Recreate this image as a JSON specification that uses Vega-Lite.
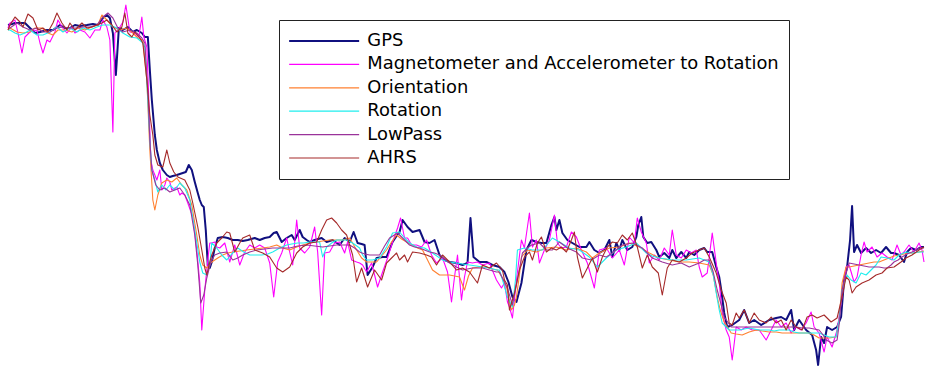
{
"$schema": "https://vega.github.io/schema/vega-lite/v6.json",
"width": 925, "height": 366,
"autosize": {"type": "fit", "contains": "padding"},
"padding": 0,
"background": "white",
"config": {
  "view": {"stroke": null},
  "legend": {"orient": "none", "legendX": 279, "legendY": 20, "title": null, "direction": "vertical",
    "strokeColor": "#222222", "strokeWidth": 1, "fillColor": "white", "padding": 10, "cornerRadius": 0,
    "symbolType": "M-10,0H10", "symbolSize": 49, "symbolStrokeWidth": 1.2, "symbolOffset": 26.2,
    "labelFont": "DejaVu Sans", "labelFontSize": 17.9, "labelColor": "black", "labelOffset": 34.2, "labelLimit": 0,
    "rowPadding": 1.4, "clipHeight": 22}
},
"datasets": {
"gps": [{"t":8,"h":25},{"t":12,"h":24},{"t":15,"h":23},{"t":20,"h":23},{"t":25,"h":23},{"t":30,"h":28},{"t":35,"h":33},{"t":40,"h":32},{"t":47,"h":30},{"t":53,"h":30},{"t":60,"h":25},{"t":65,"h":28},{"t":70,"h":28},{"t":75,"h":25},{"t":80,"h":26},{"t":87,"h":25},{"t":93,"h":24},{"t":98,"h":25},{"t":103,"h":18},{"t":107,"h":15},{"t":110,"h":18},{"t":113,"h":33},{"t":116,"h":75},{"t":119,"h":28},{"t":123,"h":30},{"t":128,"h":27},{"t":133,"h":32},{"t":137,"h":30},{"t":142,"h":33},{"t":145,"h":37},{"t":148,"h":37},{"t":150,"h":70},{"t":152,"h":100},{"t":155,"h":135},{"t":157,"h":150},{"t":160,"h":163},{"t":163,"h":170},{"t":167,"h":175},{"t":170,"h":177},{"t":173,"h":176},{"t":177,"h":175},{"t":180,"h":174},{"t":183,"h":173},{"t":186,"h":172},{"t":189,"h":165},{"t":192,"h":170},{"t":195,"h":182},{"t":198,"h":193},{"t":200,"h":200},{"t":202,"h":205},{"t":204,"h":207},{"t":206,"h":230},{"t":208,"h":265},{"t":210,"h":268},{"t":212,"h":262},{"t":215,"h":248},{"t":218,"h":238},{"t":223,"h":237},{"t":228,"h":238},{"t":233,"h":240},{"t":238,"h":240},{"t":243,"h":241},{"t":248,"h":240},{"t":255,"h":238},{"t":260,"h":240},{"t":265,"h":238},{"t":270,"h":237},{"t":274,"h":233},{"t":277,"h":232},{"t":280,"h":238},{"t":282,"h":242},{"t":287,"h":238},{"t":292,"h":235},{"t":295,"h":240},{"t":300,"h":230},{"t":303,"h":237},{"t":307,"h":240},{"t":310,"h":242},{"t":315,"h":240},{"t":322,"h":238},{"t":327,"h":242},{"t":333,"h":240},{"t":340,"h":245},{"t":345,"h":238},{"t":350,"h":242},{"t":354,"h":232},{"t":358,"h":243},{"t":362,"h":244},{"t":365,"h":245},{"t":368,"h":275},{"t":373,"h":267},{"t":377,"h":258},{"t":383,"h":257},{"t":387,"h":257},{"t":393,"h":242},{"t":397,"h":236},{"t":400,"h":232},{"t":403,"h":220},{"t":408,"h":227},{"t":413,"h":232},{"t":420,"h":230},{"t":425,"h":242},{"t":430,"h":243},{"t":435,"h":240},{"t":440,"h":255},{"t":445,"h":260},{"t":450,"h":262},{"t":457,"h":263},{"t":463,"h":265},{"t":468,"h":263},{"t":471,"h":218},{"t":474,"h":257},{"t":480,"h":262},{"t":487,"h":262},{"t":493,"h":265},{"t":500,"h":267},{"t":505,"h":272},{"t":509,"h":282},{"t":513,"h":297},{"t":517,"h":302},{"t":522,"h":283},{"t":527,"h":250},{"t":532,"h":240},{"t":537,"h":242},{"t":542,"h":243},{"t":547,"h":243},{"t":552,"h":225},{"t":555,"h":217},{"t":557,"h":230},{"t":560,"h":220},{"t":563,"h":233},{"t":568,"h":240},{"t":573,"h":243},{"t":580,"h":247},{"t":587,"h":247},{"t":590,"h":242},{"t":595,"h":250},{"t":600,"h":253},{"t":605,"h":250},{"t":610,"h":240},{"t":613,"h":257},{"t":617,"h":243},{"t":620,"h":250},{"t":623,"h":240},{"t":628,"h":250},{"t":633,"h":247},{"t":637,"h":237},{"t":639,"h":225},{"t":642,"h":217},{"t":644,"h":237},{"t":648,"h":243},{"t":652,"h":242},{"t":657,"h":250},{"t":660,"h":257},{"t":665,"h":253},{"t":670,"h":258},{"t":673,"h":250},{"t":677,"h":258},{"t":682,"h":252},{"t":687,"h":258},{"t":690,"h":252},{"t":695,"h":255},{"t":700,"h":250},{"t":705,"h":248},{"t":708,"h":252},{"t":713,"h":252},{"t":717,"h":267},{"t":720,"h":277},{"t":722,"h":290},{"t":725,"h":313},{"t":728,"h":327},{"t":733,"h":325},{"t":740,"h":320},{"t":745,"h":310},{"t":750,"h":323},{"t":755,"h":320},{"t":762,"h":325},{"t":770,"h":320},{"t":777,"h":318},{"t":782,"h":317},{"t":787,"h":320},{"t":792,"h":310},{"t":795,"h":330},{"t":800,"h":320},{"t":807,"h":330},{"t":813,"h":335},{"t":817,"h":350},{"t":819,"h":365},{"t":822,"h":337},{"t":825,"h":343},{"t":828,"h":327},{"t":833,"h":330},{"t":838,"h":327},{"t":842,"h":317},{"t":845,"h":280},{"t":848,"h":267},{"t":851,"h":240},{"t":853,"h":206},{"t":855,"h":252},{"t":858,"h":245},{"t":862,"h":253},{"t":867,"h":248},{"t":872,"h":253},{"t":877,"h":250},{"t":882,"h":253},{"t":887,"h":247},{"t":892,"h":253},{"t":895,"h":253},{"t":900,"h":255},{"t":905,"h":262},{"t":908,"h":252},{"t":912,"h":248},{"t":917,"h":250},{"t":922,"h":247},{"t":925,"h":247}],
"mag": [{"t":8,"h":28},{"t":10,"h":23},{"t":15,"h":20},{"t":18,"h":33},{"t":22,"h":53},{"t":25,"h":37},{"t":30,"h":32},{"t":37,"h":30},{"t":40,"h":43},{"t":43,"h":53},{"t":47,"h":40},{"t":50,"h":42},{"t":55,"h":32},{"t":58,"h":20},{"t":62,"h":27},{"t":67,"h":33},{"t":72,"h":27},{"t":75,"h":33},{"t":80,"h":30},{"t":85,"h":32},{"t":90,"h":38},{"t":95,"h":30},{"t":100,"h":30},{"t":103,"h":20},{"t":107,"h":27},{"t":110,"h":40},{"t":113,"h":132},{"t":115,"h":33},{"t":120,"h":27},{"t":123,"h":22},{"t":126,"h":5},{"t":130,"h":32},{"t":135,"h":33},{"t":139,"h":37},{"t":142,"h":17},{"t":144,"h":37},{"t":147,"h":47},{"t":149,"h":100},{"t":151,"h":160},{"t":153,"h":170},{"t":157,"h":180},{"t":160,"h":170},{"t":162,"h":190},{"t":165,"h":185},{"t":167,"h":178},{"t":170,"h":182},{"t":172,"h":190},{"t":177,"h":187},{"t":180,"h":195},{"t":182,"h":193},{"t":185,"h":195},{"t":188,"h":203},{"t":193,"h":217},{"t":197,"h":250},{"t":200,"h":283},{"t":202,"h":330},{"t":205,"h":290},{"t":208,"h":260},{"t":210,"h":243},{"t":212,"h":243},{"t":215,"h":242},{"t":217,"h":247},{"t":220,"h":248},{"t":225,"h":243},{"t":230,"h":262},{"t":235,"h":245},{"t":240,"h":265},{"t":245,"h":252},{"t":250,"h":245},{"t":255,"h":248},{"t":260,"h":245},{"t":265,"h":248},{"t":270,"h":263},{"t":274,"h":297},{"t":278,"h":262},{"t":282,"h":253},{"t":287,"h":238},{"t":290,"h":252},{"t":293,"h":265},{"t":297,"h":220},{"t":300,"h":248},{"t":305,"h":253},{"t":310,"h":247},{"t":315,"h":227},{"t":318,"h":252},{"t":322,"h":315},{"t":325,"h":253},{"t":330,"h":252},{"t":335,"h":243},{"t":340,"h":242},{"t":345,"h":253},{"t":348,"h":242},{"t":352,"h":260},{"t":357,"h":262},{"t":360,"h":263},{"t":363,"h":265},{"t":367,"h":272},{"t":372,"h":263},{"t":378,"h":287},{"t":383,"h":272},{"t":388,"h":258},{"t":393,"h":242},{"t":398,"h":228},{"t":401,"h":218},{"t":405,"h":238},{"t":408,"h":238},{"t":412,"h":245},{"t":417,"h":245},{"t":422,"h":247},{"t":427,"h":240},{"t":432,"h":255},{"t":437,"h":263},{"t":443,"h":258},{"t":448,"h":272},{"t":452,"h":302},{"t":455,"h":277},{"t":458,"h":255},{"t":462,"h":300},{"t":465,"h":277},{"t":468,"h":262},{"t":473,"h":263},{"t":478,"h":262},{"t":483,"h":265},{"t":490,"h":263},{"t":497,"h":280},{"t":502,"h":288},{"t":505,"h":283},{"t":508,"h":302},{"t":510,"h":307},{"t":513,"h":318},{"t":517,"h":280},{"t":522,"h":240},{"t":525,"h":248},{"t":530,"h":213},{"t":533,"h":247},{"t":537,"h":240},{"t":540,"h":263},{"t":545,"h":250},{"t":550,"h":240},{"t":555,"h":215},{"t":558,"h":243},{"t":562,"h":248},{"t":567,"h":247},{"t":572,"h":232},{"t":577,"h":237},{"t":582,"h":250},{"t":588,"h":263},{"t":595,"h":288},{"t":600,"h":250},{"t":607,"h":248},{"t":613,"h":258},{"t":620,"h":250},{"t":625,"h":265},{"t":630,"h":237},{"t":635,"h":243},{"t":638,"h":218},{"t":642,"h":232},{"t":647,"h":243},{"t":650,"h":263},{"t":655,"h":255},{"t":660,"h":260},{"t":665,"h":248},{"t":670,"h":255},{"t":673,"h":230},{"t":677,"h":255},{"t":682,"h":258},{"t":687,"h":250},{"t":692,"h":253},{"t":697,"h":250},{"t":700,"h":267},{"t":703,"h":277},{"t":708,"h":273},{"t":713,"h":233},{"t":717,"h":263},{"t":720,"h":283},{"t":723,"h":313},{"t":727,"h":330},{"t":730,"h":337},{"t":733,"h":360},{"t":737,"h":327},{"t":742,"h":330},{"t":747,"h":327},{"t":753,"h":330},{"t":760,"h":330},{"t":767,"h":340},{"t":772,"h":330},{"t":777,"h":320},{"t":782,"h":327},{"t":787,"h":323},{"t":792,"h":333},{"t":797,"h":327},{"t":802,"h":330},{"t":807,"h":323},{"t":812,"h":312},{"t":815,"h":327},{"t":820,"h":333},{"t":825,"h":352},{"t":828,"h":337},{"t":833,"h":347},{"t":838,"h":330},{"t":843,"h":297},{"t":847,"h":267},{"t":850,"h":265},{"t":855,"h":282},{"t":858,"h":277},{"t":862,"h":255},{"t":865,"h":242},{"t":868,"h":252},{"t":873,"h":247},{"t":878,"h":257},{"t":883,"h":253},{"t":888,"h":257},{"t":893,"h":260},{"t":898,"h":245},{"t":902,"h":255},{"t":905,"h":252},{"t":910,"h":245},{"t":915,"h":252},{"t":920,"h":243},{"t":923,"h":250},{"t":925,"h":262}],
"ori": [{"t":8,"h":30},{"t":10,"h":28},{"t":17,"h":32},{"t":23,"h":33},{"t":30,"h":32},{"t":35,"h":28},{"t":42,"h":28},{"t":48,"h":33},{"t":53,"h":35},{"t":58,"h":30},{"t":65,"h":30},{"t":72,"h":32},{"t":78,"h":28},{"t":85,"h":30},{"t":92,"h":27},{"t":98,"h":25},{"t":102,"h":15},{"t":107,"h":20},{"t":113,"h":27},{"t":120,"h":30},{"t":127,"h":28},{"t":133,"h":33},{"t":138,"h":38},{"t":143,"h":40},{"t":147,"h":80},{"t":150,"h":150},{"t":153,"h":200},{"t":155,"h":210},{"t":158,"h":195},{"t":162,"h":183},{"t":167,"h":180},{"t":172,"h":182},{"t":177,"h":178},{"t":182,"h":185},{"t":187,"h":190},{"t":192,"h":205},{"t":197,"h":235},{"t":200,"h":255},{"t":203,"h":265},{"t":207,"h":268},{"t":212,"h":262},{"t":218,"h":258},{"t":223,"h":255},{"t":228,"h":253},{"t":233,"h":252},{"t":240,"h":251},{"t":247,"h":250},{"t":255,"h":249},{"t":263,"h":248},{"t":270,"h":247},{"t":277,"h":245},{"t":283,"h":248},{"t":290,"h":250},{"t":297,"h":247},{"t":303,"h":245},{"t":310,"h":243},{"t":317,"h":242},{"t":323,"h":241},{"t":330,"h":240},{"t":337,"h":240},{"t":343,"h":240},{"t":350,"h":238},{"t":357,"h":250},{"t":362,"h":258},{"t":367,"h":262},{"t":372,"h":262},{"t":377,"h":262},{"t":382,"h":256},{"t":387,"h":250},{"t":392,"h":242},{"t":397,"h":235},{"t":402,"h":239},{"t":407,"h":242},{"t":413,"h":245},{"t":418,"h":248},{"t":423,"h":250},{"t":428,"h":260},{"t":433,"h":270},{"t":440,"h":275},{"t":445,"h":275},{"t":450,"h":275},{"t":455,"h":276},{"t":460,"h":277},{"t":465,"h":290},{"t":469,"h":276},{"t":473,"h":268},{"t":480,"h":267},{"t":487,"h":267},{"t":493,"h":269},{"t":498,"h":270},{"t":503,"h":278},{"t":507,"h":287},{"t":512,"h":310},{"t":515,"h":305},{"t":517,"h":297},{"t":520,"h":275},{"t":522,"h":257},{"t":528,"h":250},{"t":537,"h":252},{"t":547,"h":248},{"t":557,"h":247},{"t":567,"h":250},{"t":577,"h":248},{"t":587,"h":252},{"t":593,"h":258},{"t":600,"h":253},{"t":610,"h":248},{"t":620,"h":247},{"t":630,"h":243},{"t":640,"h":247},{"t":650,"h":253},{"t":660,"h":258},{"t":670,"h":260},{"t":680,"h":262},{"t":690,"h":262},{"t":700,"h":263},{"t":710,"h":265},{"t":714,"h":275},{"t":718,"h":297},{"t":721,"h":310},{"t":725,"h":322},{"t":732,"h":333},{"t":737,"h":334},{"t":743,"h":335},{"t":750,"h":332},{"t":757,"h":330},{"t":763,"h":331},{"t":770,"h":332},{"t":777,"h":332},{"t":783,"h":333},{"t":790,"h":333},{"t":797,"h":333},{"t":803,"h":333},{"t":810,"h":333},{"t":815,"h":335},{"t":820,"h":338},{"t":825,"h":338},{"t":830,"h":338},{"t":837,"h":337},{"t":840,"h":320},{"t":843,"h":283},{"t":847,"h":267},{"t":850,"h":267},{"t":855,"h":266},{"t":860,"h":265},{"t":865,"h":264},{"t":870,"h":263},{"t":875,"h":262},{"t":880,"h":262},{"t":885,"h":260},{"t":890,"h":258},{"t":895,"h":256},{"t":900,"h":255},{"t":905,"h":254},{"t":910,"h":253},{"t":915,"h":253},{"t":920,"h":252},{"t":925,"h":251}],
"rot": [{"t":8,"h":30},{"t":10,"h":30},{"t":15,"h":33},{"t":20,"h":35},{"t":25,"h":33},{"t":30,"h":30},{"t":37,"h":35},{"t":43,"h":35},{"t":50,"h":32},{"t":57,"h":27},{"t":63,"h":32},{"t":70,"h":28},{"t":77,"h":32},{"t":83,"h":28},{"t":90,"h":30},{"t":97,"h":27},{"t":103,"h":25},{"t":110,"h":25},{"t":117,"h":28},{"t":123,"h":33},{"t":130,"h":37},{"t":137,"h":38},{"t":142,"h":42},{"t":145,"h":47},{"t":148,"h":100},{"t":150,"h":140},{"t":152,"h":170},{"t":155,"h":180},{"t":158,"h":192},{"t":162,"h":185},{"t":166,"h":190},{"t":170,"h":185},{"t":175,"h":190},{"t":180,"h":183},{"t":185,"h":188},{"t":190,"h":200},{"t":195,"h":230},{"t":200,"h":262},{"t":203,"h":273},{"t":207,"h":275},{"t":210,"h":265},{"t":212,"h":243},{"t":217,"h":248},{"t":222,"h":255},{"t":227,"h":260},{"t":232,"h":254},{"t":238,"h":248},{"t":244,"h":252},{"t":250,"h":255},{"t":256,"h":255},{"t":262,"h":255},{"t":268,"h":254},{"t":273,"h":252},{"t":280,"h":248},{"t":287,"h":245},{"t":292,"h":244},{"t":298,"h":243},{"t":304,"h":243},{"t":310,"h":242},{"t":315,"h":242},{"t":320,"h":242},{"t":323,"h":257},{"t":327,"h":247},{"t":332,"h":243},{"t":337,"h":240},{"t":342,"h":240},{"t":347,"h":240},{"t":353,"h":243},{"t":360,"h":248},{"t":363,"h":255},{"t":367,"h":260},{"t":373,"h":260},{"t":380,"h":258},{"t":387,"h":247},{"t":393,"h":233},{"t":400,"h":232},{"t":405,"h":238},{"t":410,"h":243},{"t":417,"h":247},{"t":425,"h":248},{"t":433,"h":253},{"t":443,"h":260},{"t":450,"h":262},{"t":457,"h":263},{"t":463,"h":264},{"t":470,"h":265},{"t":477,"h":266},{"t":483,"h":267},{"t":490,"h":268},{"t":497,"h":270},{"t":500,"h":270},{"t":504,"h":283},{"t":508,"h":297},{"t":513,"h":307},{"t":516,"h":280},{"t":518,"h":250},{"t":525,"h":248},{"t":533,"h":250},{"t":543,"h":250},{"t":553,"h":238},{"t":560,"h":242},{"t":570,"h":248},{"t":580,"h":250},{"t":590,"h":257},{"t":598,"h":267},{"t":603,"h":262},{"t":607,"h":258},{"t":612,"h":254},{"t":617,"h":250},{"t":627,"h":247},{"t":637,"h":243},{"t":642,"h":248},{"t":647,"h":253},{"t":653,"h":256},{"t":660,"h":258},{"t":667,"h":259},{"t":673,"h":260},{"t":680,"h":260},{"t":687,"h":260},{"t":693,"h":259},{"t":700,"h":258},{"t":705,"h":260},{"t":710,"h":262},{"t":714,"h":275},{"t":717,"h":293},{"t":720,"h":310},{"t":723,"h":323},{"t":730,"h":330},{"t":735,"h":330},{"t":740,"h":330},{"t":745,"h":329},{"t":750,"h":328},{"t":755,"h":329},{"t":760,"h":330},{"t":765,"h":330},{"t":770,"h":330},{"t":775,"h":331},{"t":780,"h":330},{"t":785,"h":330},{"t":790,"h":330},{"t":795,"h":332},{"t":800,"h":333},{"t":805,"h":333},{"t":810,"h":333},{"t":815,"h":333},{"t":820,"h":333},{"t":825,"h":335},{"t":830,"h":337},{"t":837,"h":337},{"t":840,"h":320},{"t":843,"h":290},{"t":848,"h":275},{"t":852,"h":280},{"t":857,"h":283},{"t":862,"h":273},{"t":867,"h":275},{"t":872,"h":270},{"t":877,"h":265},{"t":882,"h":257},{"t":888,"h":258},{"t":895,"h":260},{"t":900,"h":255},{"t":907,"h":252},{"t":913,"h":253},{"t":920,"h":252},{"t":925,"h":252}],
"low": [{"t":8,"h":28},{"t":10,"h":28},{"t":17,"h":23},{"t":23,"h":27},{"t":30,"h":30},{"t":37,"h":28},{"t":43,"h":32},{"t":50,"h":32},{"t":57,"h":28},{"t":63,"h":27},{"t":70,"h":28},{"t":77,"h":28},{"t":83,"h":27},{"t":90,"h":27},{"t":97,"h":25},{"t":103,"h":17},{"t":108,"h":13},{"t":113,"h":18},{"t":118,"h":28},{"t":123,"h":32},{"t":130,"h":30},{"t":137,"h":33},{"t":142,"h":38},{"t":145,"h":43},{"t":148,"h":90},{"t":150,"h":140},{"t":152,"h":170},{"t":156,"h":185},{"t":160,"h":190},{"t":165,"h":188},{"t":170,"h":192},{"t":175,"h":190},{"t":180,"h":188},{"t":185,"h":195},{"t":190,"h":205},{"t":195,"h":235},{"t":198,"h":265},{"t":201,"h":303},{"t":204,"h":295},{"t":207,"h":278},{"t":211,"h":262},{"t":215,"h":255},{"t":220,"h":253},{"t":227,"h":252},{"t":233,"h":260},{"t":238,"h":258},{"t":243,"h":255},{"t":250,"h":252},{"t":257,"h":250},{"t":265,"h":249},{"t":273,"h":248},{"t":280,"h":248},{"t":290,"h":248},{"t":298,"h":246},{"t":307,"h":245},{"t":315,"h":246},{"t":323,"h":247},{"t":330,"h":246},{"t":337,"h":245},{"t":343,"h":245},{"t":350,"h":245},{"t":355,"h":248},{"t":360,"h":252},{"t":365,"h":254},{"t":370,"h":255},{"t":375,"h":255},{"t":380,"h":255},{"t":385,"h":246},{"t":390,"h":238},{"t":398,"h":233},{"t":404,"h":239},{"t":410,"h":245},{"t":415,"h":247},{"t":420,"h":248},{"t":425,"h":250},{"t":430,"h":252},{"t":435,"h":253},{"t":440,"h":255},{"t":445,"h":259},{"t":450,"h":263},{"t":457,"h":267},{"t":463,"h":270},{"t":468,"h":269},{"t":473,"h":268},{"t":478,"h":268},{"t":483,"h":268},{"t":490,"h":270},{"t":497,"h":272},{"t":500,"h":272},{"t":504,"h":280},{"t":508,"h":288},{"t":513,"h":305},{"t":518,"h":280},{"t":523,"h":253},{"t":528,"h":248},{"t":532,"h":245},{"t":540,"h":243},{"t":547,"h":250},{"t":553,"h":250},{"t":560,"h":242},{"t":568,"h":248},{"t":577,"h":252},{"t":583,"h":258},{"t":592,"h":260},{"t":600,"h":255},{"t":607,"h":257},{"t":613,"h":253},{"t":623,"h":245},{"t":633,"h":243},{"t":643,"h":248},{"t":653,"h":258},{"t":663,"h":262},{"t":673,"h":265},{"t":682,"h":263},{"t":690,"h":267},{"t":700,"h":263},{"t":705,"h":260},{"t":710,"h":260},{"t":714,"h":272},{"t":718,"h":290},{"t":722,"h":305},{"t":725,"h":317},{"t":732,"h":327},{"t":737,"h":327},{"t":743,"h":327},{"t":750,"h":327},{"t":757,"h":327},{"t":763,"h":327},{"t":770,"h":327},{"t":777,"h":327},{"t":783,"h":327},{"t":790,"h":327},{"t":797,"h":327},{"t":803,"h":328},{"t":810,"h":328},{"t":815,"h":329},{"t":820,"h":330},{"t":824,"h":335},{"t":827,"h":340},{"t":833,"h":343},{"t":838,"h":340},{"t":840,"h":325},{"t":843,"h":290},{"t":847,"h":273},{"t":850,"h":263},{"t":855,"h":264},{"t":860,"h":265},{"t":865,"h":266},{"t":870,"h":267},{"t":875,"h":267},{"t":880,"h":267},{"t":885,"h":268},{"t":888,"h":268},{"t":892,"h":265},{"t":895,"h":262},{"t":899,"h":260},{"t":903,"h":257},{"t":908,"h":254},{"t":913,"h":252},{"t":917,"h":250},{"t":920,"h":248},{"t":925,"h":248}],
"ahrs": [{"t":8,"h":30},{"t":10,"h":25},{"t":15,"h":17},{"t":20,"h":22},{"t":23,"h":27},{"t":28,"h":14},{"t":33,"h":18},{"t":38,"h":30},{"t":43,"h":28},{"t":48,"h":32},{"t":53,"h":23},{"t":57,"h":13},{"t":62,"h":23},{"t":67,"h":30},{"t":70,"h":23},{"t":75,"h":30},{"t":82,"h":23},{"t":87,"h":28},{"t":92,"h":27},{"t":97,"h":25},{"t":102,"h":23},{"t":107,"h":20},{"t":112,"h":25},{"t":117,"h":32},{"t":122,"h":27},{"t":125,"h":13},{"t":128,"h":33},{"t":132,"h":37},{"t":135,"h":32},{"t":140,"h":38},{"t":143,"h":43},{"t":147,"h":80},{"t":150,"h":115},{"t":153,"h":135},{"t":155,"h":155},{"t":158,"h":165},{"t":163,"h":167},{"t":167,"h":150},{"t":170,"h":163},{"t":174,"h":172},{"t":178,"h":177},{"t":185,"h":180},{"t":190,"h":190},{"t":193,"h":203},{"t":198,"h":227},{"t":202,"h":250},{"t":205,"h":268},{"t":207,"h":275},{"t":210,"h":262},{"t":212,"h":255},{"t":217,"h":243},{"t":222,"h":238},{"t":227,"h":232},{"t":230,"h":233},{"t":235,"h":252},{"t":240,"h":243},{"t":243,"h":238},{"t":250,"h":235},{"t":255,"h":250},{"t":263,"h":253},{"t":270,"h":257},{"t":277,"h":268},{"t":283,"h":272},{"t":290,"h":267},{"t":297,"h":253},{"t":303,"h":247},{"t":310,"h":243},{"t":317,"h":242},{"t":322,"h":230},{"t":327,"h":220},{"t":332,"h":218},{"t":337,"h":223},{"t":342,"h":230},{"t":347,"h":235},{"t":350,"h":245},{"t":353,"h":255},{"t":357,"h":282},{"t":362,"h":268},{"t":368,"h":287},{"t":375,"h":270},{"t":382,"h":280},{"t":387,"h":263},{"t":392,"h":258},{"t":397,"h":253},{"t":400,"h":260},{"t":405,"h":255},{"t":408,"h":262},{"t":413,"h":252},{"t":420,"h":253},{"t":427,"h":255},{"t":432,"h":257},{"t":437,"h":265},{"t":443,"h":255},{"t":450,"h":262},{"t":457,"h":270},{"t":463,"h":268},{"t":470,"h":272},{"t":478,"h":283},{"t":483,"h":265},{"t":490,"h":268},{"t":497,"h":263},{"t":503,"h":270},{"t":505,"h":280},{"t":508,"h":285},{"t":510,"h":310},{"t":515,"h":293},{"t":520,"h":270},{"t":525,"h":257},{"t":530,"h":252},{"t":533,"h":260},{"t":538,"h":243},{"t":542,"h":237},{"t":547,"h":252},{"t":552,"h":248},{"t":557,"h":250},{"t":562,"h":247},{"t":567,"h":252},{"t":572,"h":240},{"t":575,"h":232},{"t":578,"h":257},{"t":583,"h":278},{"t":588,"h":268},{"t":593,"h":258},{"t":598,"h":272},{"t":603,"h":257},{"t":608,"h":247},{"t":613,"h":242},{"t":618,"h":243},{"t":623,"h":235},{"t":628,"h":240},{"t":633,"h":233},{"t":638,"h":247},{"t":643,"h":268},{"t":648,"h":255},{"t":653,"h":267},{"t":659,"h":273},{"t":663,"h":295},{"t":668,"h":268},{"t":673,"h":260},{"t":680,"h":262},{"t":687,"h":258},{"t":693,"h":253},{"t":700,"h":250},{"t":705,"h":248},{"t":710,"h":257},{"t":717,"h":273},{"t":722,"h":290},{"t":727,"h":303},{"t":730,"h":323},{"t":733,"h":325},{"t":737,"h":313},{"t":740,"h":318},{"t":745,"h":310},{"t":750,"h":323},{"t":755,"h":313},{"t":760,"h":320},{"t":767,"h":323},{"t":772,"h":317},{"t":777,"h":323},{"t":782,"h":320},{"t":787,"h":330},{"t":792,"h":320},{"t":797,"h":327},{"t":803,"h":330},{"t":808,"h":317},{"t":813,"h":315},{"t":818,"h":318},{"t":825,"h":315},{"t":832,"h":322},{"t":838,"h":318},{"t":843,"h":297},{"t":847,"h":277},{"t":850,"h":280},{"t":853,"h":293},{"t":857,"h":287},{"t":863,"h":283},{"t":870,"h":280},{"t":877,"h":275},{"t":883,"h":273},{"t":888,"h":268},{"t":895,"h":267},{"t":902,"h":262},{"t":907,"h":258},{"t":913,"h":255},{"t":920,"h":250},{"t":925,"h":247}]
},
"encoding": {
  "x": {"field": "t", "type": "quantitative", "scale": {"domain": [0, 925], "nice": false, "zero": false}, "axis": null},
  "y": {"field": "h", "type": "quantitative", "scale": {"domain": [0, 366], "reverse": true, "nice": false, "zero": false}, "axis": null}
},
"layer": [
  {"data": {"name": "gps"}, "mark": {"type": "line", "strokeWidth": 2, "strokeJoin": "round"},
   "encoding": {"color": {"datum": "GPS", "type": "nominal",
     "scale": {"domain": ["GPS", "Magnetometer and Accelerometer to Rotation", "Orientation", "Rotation", "LowPass", "AHRS"],
               "range": ["#10107f", "#ff00ff", "#ff8030", "#20eeee", "#9a339a", "#a52a2a"]},
     "legend": {"encode": {"symbols": {"update": {"strokeWidth": {"signal": "datum.value === 'GPS' ? 2 : 1.2"}}}}}}}},
  {"data": {"name": "mag"}, "mark": {"type": "line", "strokeWidth": 1.1, "strokeJoin": "round"},
   "encoding": {"color": {"datum": "Magnetometer and Accelerometer to Rotation", "type": "nominal"}}},
  {"data": {"name": "ori"}, "mark": {"type": "line", "strokeWidth": 1.1, "strokeJoin": "round"},
   "encoding": {"color": {"datum": "Orientation", "type": "nominal"}}},
  {"data": {"name": "rot"}, "mark": {"type": "line", "strokeWidth": 1.1, "strokeJoin": "round"},
   "encoding": {"color": {"datum": "Rotation", "type": "nominal"}}},
  {"data": {"name": "low"}, "mark": {"type": "line", "strokeWidth": 1.1, "strokeJoin": "round"},
   "encoding": {"color": {"datum": "LowPass", "type": "nominal"}}},
  {"data": {"name": "ahrs"}, "mark": {"type": "line", "strokeWidth": 1.1, "strokeJoin": "round"},
   "encoding": {"color": {"datum": "AHRS", "type": "nominal"}}}
]
}
